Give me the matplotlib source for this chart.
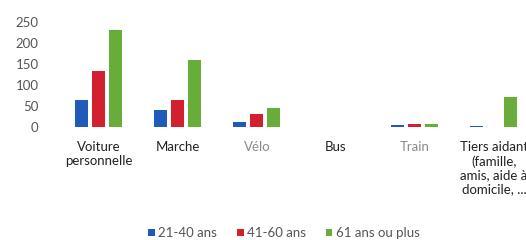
import numpy as np
import matplotlib
matplotlib.use('agg')
import matplotlib.pyplot as plt

plt.rcParams['font.family'] = ['Lato', 'DejaVu Sans']

categories = ['Voiture\npersonnelle', 'Marche', 'Vélo', 'Bus', 'Train',
              'Tiers aidant\n(famille,\namis, aide à\ndomicile, ...']
label_colors = ['#222222', '#222222', '#8a8a8a', '#222222', '#8a8a8a', '#222222']
series_names = ['21-40 ans', '41-60 ans', '61 ans ou plus']
v_21_40 = [64, 40, 11, 0, 5, 2]
v_41_60 = [133, 64, 31, 0, 7, 0]
v_61_plus = [230, 159, 44, 0, 8, 71]
colors = ['#1f5bb8', '#d2202f', '#68ad3a']
y_ticks = [0, 50, 100, 150, 200, 250]

fig = plt.figure(figsize=(5.26, 2.4), dpi=100)
ax = fig.add_axes([0.113, 0.471, 0.901, 0.439])

x = np.arange(len(categories))
w = 0.165
step = 0.215
for i, (vals, name, c) in enumerate(zip([v_21_40, v_41_60, v_61_plus], series_names, colors)):
    ax.bar(x + (i - 1) * step, vals, width=w, color=c, label=name)

ax.set_xlim(-0.5, len(categories) - 0.5)
ax.set_ylim(0, 250)
ax.set_yticks(y_ticks)
ax.set_yticklabels([str(t) for t in y_ticks], fontsize=9.5, color='#555555')
ax.set_xticks(x)
ax.set_xticklabels(categories, fontsize=9.5, linespacing=1.2, va='top', ma='center')
for lab, c in zip(ax.get_xticklabels(), label_colors):
    lab.set_color(c)
ax.tick_params(axis='both', length=0)
ax.tick_params(axis='x', pad=10)
ax.tick_params(axis='y', pad=15)
for s in ax.spines.values():
    s.set_visible(False)

fig.legend(loc='center', bbox_to_anchor=(284 / 526, 1 - 233 / 240), ncol=3,
           frameon=False, fontsize=9.5, handlelength=0.5, handleheight=0.5,
           handletextpad=0.25, columnspacing=1.5, labelcolor='#555555')

plt.savefig('out.png', dpi=100)
